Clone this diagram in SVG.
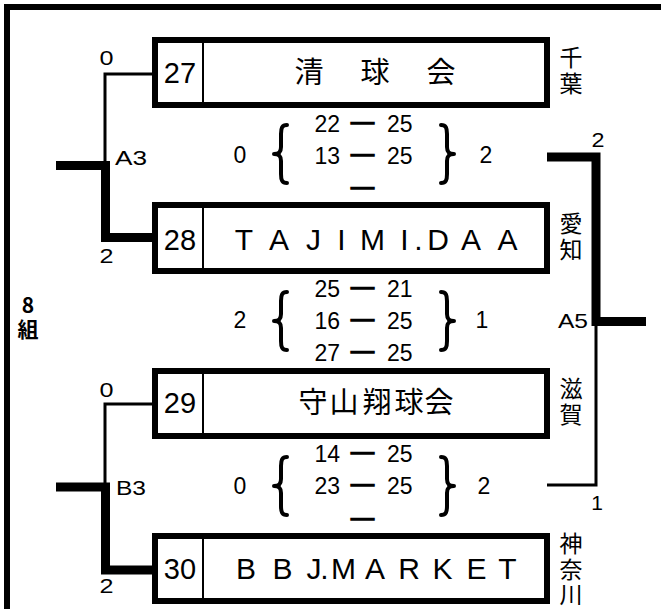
<svg xmlns="http://www.w3.org/2000/svg" width="661" height="609" viewBox="0 0 661 609">
<style>
text{font-family:"Liberation Sans","Noto Sans CJK JP",sans-serif;fill:#000}
.box{fill:#fff;stroke:#000;stroke-width:6}
.div{stroke:#000;stroke-width:2}
.num{font-size:29px;text-anchor:middle}
.en{font-size:30px;text-anchor:middle}
.jp{font-family:"Noto Sans CJK JP",sans-serif;font-size:29px;text-anchor:middle}
.pref{font-family:"Noto Sans CJK JP",sans-serif;font-size:23px;writing-mode:vertical-rl;letter-spacing:2.5px}
.grp{font-family:"Noto Sans CJK JP",sans-serif;font-size:21px;font-weight:bold;writing-mode:vertical-rl;text-orientation:upright;letter-spacing:2.5px}
.lbl{font-size:21px}
.mid{text-anchor:middle}
.end{text-anchor:end}
.sc{font-size:23px}
.dash{stroke:#000;stroke-width:1.5;text-anchor:middle}
.thin{fill:none;stroke:#000;stroke-width:3}
.thick{fill:none;stroke:#000;stroke-width:9}
.frame{fill:none;stroke:#000;stroke-width:6}
.brace{fill:none;stroke:#000;stroke-width:4;stroke-linecap:round;stroke-linejoin:round}
</style>
<defs>
<path id="brace" class="brace" d="M6,-29 C1,-29 0,-26 0,-20 L0,-7 C0,-2 -2,0 -7,0 C-2,0 0,2 0,7 L0,20 C0,26 1,29 6,29"/>
</defs>
<rect width="661" height="609" fill="#fff"/>
<path class="frame" d="M7,609 V7 H661"/>

<g id="group-label">
<text class="grp" x="28" y="295">8組</text>
</g>

<g id="connectors">
<path class="thin" d="M152,74 H105 V165"/>
<path class="thick" d="M56,165.5 H105.5 V237.5 H152"/>
<path class="thin" d="M152,404 H105 V487"/>
<path class="thick" d="M56,487 H105.5 V570 H152"/>
<path class="thick" d="M547,157 H596 V321.5 H646"/>
<path class="thin" d="M596,321 V485 H547"/>
<text class="lbl mid" x="106.5" y="65" textLength="14" lengthAdjust="spacingAndGlyphs">0</text>
<text class="lbl" x="115" y="165" textLength="32" lengthAdjust="spacingAndGlyphs">A3</text>
<text class="lbl mid" x="106.5" y="263" textLength="14" lengthAdjust="spacingAndGlyphs">2</text>
<text class="lbl mid" x="106.5" y="397" textLength="14" lengthAdjust="spacingAndGlyphs">0</text>
<text class="lbl" x="116" y="495" textLength="30" lengthAdjust="spacingAndGlyphs">B3</text>
<text class="lbl mid" x="106.5" y="593" textLength="14" lengthAdjust="spacingAndGlyphs">2</text>
<text class="lbl mid" x="598" y="147" textLength="13" lengthAdjust="spacingAndGlyphs">2</text>
<text class="lbl end" x="588" y="328" textLength="30" lengthAdjust="spacingAndGlyphs">A5</text>
<text class="lbl mid" x="597" y="510">1</text>
</g>

<g id="team-27">
<rect class="box" x="155" y="40" width="392" height="65"/>
<line class="div" x1="203" y1="40" x2="203" y2="105"/>
<text class="num" x="180" y="83">27</text>
<text class="jp" x="309 375 441" y="83">清球会</text>
<text class="pref" x="571" y="46">千葉</text>
</g>

<g id="team-28">
<rect class="box" x="155" y="205" width="392" height="66"/>
<line class="div" x1="203" y1="205" x2="203" y2="271"/>
<text class="num" x="180" y="249.5">28</text>
<text class="en" x="244 279 313.5 341.5 372.5 404.5 418.5 438 471 507.5" y="249.5">TAJIMI.DAA</text>
<text class="pref" x="571" y="212">愛知</text>
</g>

<g id="team-29">
<rect class="box" x="155" y="371" width="392" height="65"/>
<line class="div" x1="203" y1="371" x2="203" y2="436"/>
<text class="num" x="180" y="413">29</text>
<text class="jp" x="313 344 377 409 439" y="413">守山翔球会</text>
<text class="pref" x="571" y="377">滋賀</text>
</g>

<g id="team-30">
<rect class="box" x="155" y="536" width="392" height="65"/>
<line class="div" x1="203" y1="536" x2="203" y2="601"/>
<text class="num" x="180" y="579">30</text>
<text class="en" x="246 282.5 314 324.5 343.5 375 409 442.5 476.5 507.5" y="579">BBJ.MARKET</text>
<text class="pref" x="571" y="532">神奈川</text>
</g>

<g id="score-A3">
<text class="sc mid" x="240" y="163">0</text>
<use href="#brace" transform="translate(281,154)"/>
<text class="sc"><tspan class="end" x="340" y="132">22</tspan><tspan class="dash" x="362.5" y="129">—</tspan><tspan x="387" y="132">25</tspan></text>
<text class="sc"><tspan class="end" x="340" y="164">13</tspan><tspan class="dash" x="362.5" y="161">—</tspan><tspan x="387" y="164">25</tspan></text>
<text class="sc"><tspan class="dash" x="362.5" y="194">—</tspan></text>
<use href="#brace" transform="translate(447,154) scale(-1,1)"/>
<text class="sc mid" x="486" y="163">2</text>
</g>

<g id="score-A5">
<text class="sc mid" x="240" y="328">2</text>
<use href="#brace" transform="translate(281,321)"/>
<text class="sc"><tspan class="end" x="340" y="297">25</tspan><tspan class="dash" x="362.5" y="294">—</tspan><tspan x="387" y="297">21</tspan></text>
<text class="sc"><tspan class="end" x="340" y="329">16</tspan><tspan class="dash" x="362.5" y="326">—</tspan><tspan x="387" y="329">25</tspan></text>
<text class="sc"><tspan class="end" x="340" y="361">27</tspan><tspan class="dash" x="362.5" y="358">—</tspan><tspan x="387" y="361">25</tspan></text>
<use href="#brace" transform="translate(447,321) scale(-1,1)"/>
<text class="sc mid" x="482" y="328">1</text>
</g>

<g id="score-B3">
<text class="sc mid" x="240" y="494">0</text>
<use href="#brace" transform="translate(281,486)"/>
<text class="sc"><tspan class="end" x="340" y="462">14</tspan><tspan class="dash" x="362.5" y="459">—</tspan><tspan x="387" y="462">25</tspan></text>
<text class="sc"><tspan class="end" x="340" y="494">23</tspan><tspan class="dash" x="362.5" y="491">—</tspan><tspan x="387" y="494">25</tspan></text>
<text class="sc"><tspan class="dash" x="362.5" y="525">—</tspan></text>
<use href="#brace" transform="translate(447,486) scale(-1,1)"/>
<text class="sc mid" x="484" y="494">2</text>
</g>
</svg>
